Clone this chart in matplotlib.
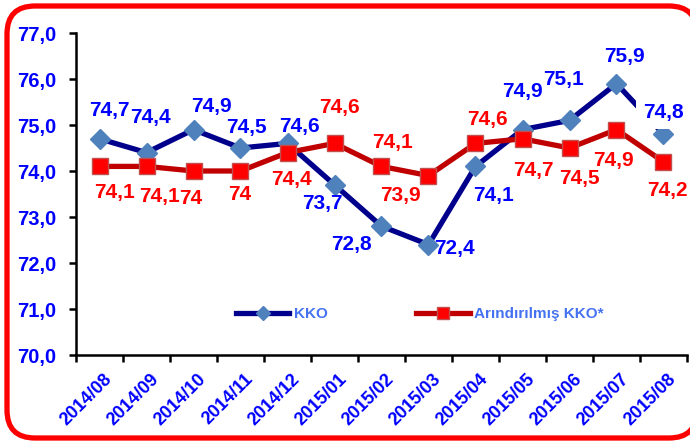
import matplotlib
matplotlib.use("Agg")
import matplotlib.pyplot as plt
from matplotlib.patches import FancyBboxPatch
from matplotlib.ticker import FuncFormatter, FixedLocator
import matplotlib.transforms as mtransforms

plt.rcParams['font.family'] = ['Liberation Sans', 'DejaVu Sans']
plt.rcParams['font.weight'] = 'bold'

months = ["2014/08", "2014/09", "2014/10", "2014/11", "2014/12", "2015/01", "2015/02",
          "2015/03", "2015/04", "2015/05", "2015/06", "2015/07", "2015/08"]
kko = [74.7, 74.4, 74.9, 74.5, 74.6, 73.7, 72.8, 72.4, 74.1, 74.9, 75.1, 75.9, 74.8]
arind = [74.1, 74.1, 74.0, 74.0, 74.4, 74.6, 74.1, 73.9, 74.6, 74.7, 74.5, 74.9, 74.2]
series_names = ["KKO", "Arındırılmış KKO*"]

# label offsets in pixels (dx, dy with y downward)
kko_off = [(10, -28), (4, -35), (18, -23), (6, -21), (12, -17), (-12, 19), (-30, 18),
           (26, 4), (18, 29), (0, -38), (-6, -41), (8, -27), (0, -22)]
ar_off = [(15, 26), (13, 30), (-3, 27), (-1, 23), (4, 27), (5, -36), (11, -24),
          (-28, 20), (12, -24), (11, 32), (10, 30), (-3, 31), (4, 29)]

BLUE = '#0000FF'
NAVY = '#00008C'
DIAM = '#4F81BD'
RED = '#FF0000'
DARKRED = '#C00000'

fig = plt.figure(figsize=(6.9, 4.44), dpi=100)
W, H = 690, 444

# rounded red border (in inches)
border = FancyBboxPatch((0.07, 0.06), 6.90, 4.32,
                        boxstyle="round,pad=0,rounding_size=0.28",
                        transform=fig.dpi_scale_trans, facecolor='white',
                        edgecolor=RED, linewidth=3.8, zorder=-5)
fig.patches.append(border)

ax = fig.add_axes([76 / W, (444 - 355) / H, (687 - 76) / W, (355 - 33) / H])
ax.set_facecolor('none')
x = list(range(len(months)))

ax.plot(x, kko, color=NAVY, lw=3.8, marker='D', markersize=10.5,
        markerfacecolor=DIAM, markeredgecolor=DIAM, label=series_names[0], zorder=3)
ax.plot(x, arind, color=DARKRED, lw=3.8, marker='s', markersize=12,
        markerfacecolor=RED, markeredgecolor='#C0504D', markeredgewidth=1,
        label=series_names[1], zorder=4)

def fmt(v):
    return f"{v:g}".replace('.', ',')

px = 72 / 100
for i, v in enumerate(kko):
    dx, dy = kko_off[i]
    kw = {}
    if i == len(kko) - 1:
        kw['bbox'] = dict(boxstyle='square,pad=0.35', fc='white', ec='none')
    ax.annotate(fmt(v), (i, v), xytext=(dx * px, -dy * px), textcoords='offset points',
                ha='center', va='center', color=BLUE, fontsize=15, fontweight='bold',
                zorder=6, **kw)
for i, v in enumerate(arind):
    dx, dy = ar_off[i]
    ax.annotate(fmt(v), (i, v), xytext=(dx * px, -dy * px), textcoords='offset points',
                ha='center', va='center', color=RED, fontsize=15, fontweight='bold',
                zorder=6)

ax.set_xlim(-0.5, len(months) - 0.5)
ax.set_ylim(70, 77)
ax.set_yticks([70, 71, 72, 73, 74, 75, 76, 77])
ax.yaxis.set_major_formatter(FuncFormatter(lambda v, p: f"{v:.1f}".replace('.', ',')))
ax.tick_params(axis='y', direction='out', length=5, width=1.8, pad=9,
               labelcolor=BLUE, labelsize=14.5)
for t in ax.get_yticklabels():
    t.set_fontweight('bold')

ax.set_xticks(x)
ax.set_xticklabels(months, rotation=45, ha='right', rotation_mode='anchor',
                   color=BLUE, fontsize=13, fontweight='bold')
ax.tick_params(axis='x', which='major', length=0, pad=11)
ax.xaxis.set_minor_locator(FixedLocator([i - 0.5 for i in range(len(months) + 1)]))
ax.tick_params(axis='x', which='minor', direction='out', length=5, width=1.8)
offset = mtransforms.ScaledTranslation(4 / 100, 0, fig.dpi_scale_trans)
for t in ax.get_xticklabels():
    t.set_transform(t.get_transform() + offset)

for s in ['top', 'right']:
    ax.spines[s].set_visible(False)
for s in ['left', 'bottom']:
    ax.spines[s].set_linewidth(1.8)
    ax.spines[s].set_color('black')

leg = ax.legend(loc='center', ncol=2, frameon=False, handlelength=3.5,
                handletextpad=0.3, columnspacing=5.8, markerscale=0.7,
                prop={'weight': 'bold', 'size': 11})
leg.set_bbox_to_anchor((420 / W, (444 - 314) / H), transform=fig.transFigure)
for t in leg.get_texts():
    t.set_color('#4472F0')

fig.savefig('out.png', dpi=100)
